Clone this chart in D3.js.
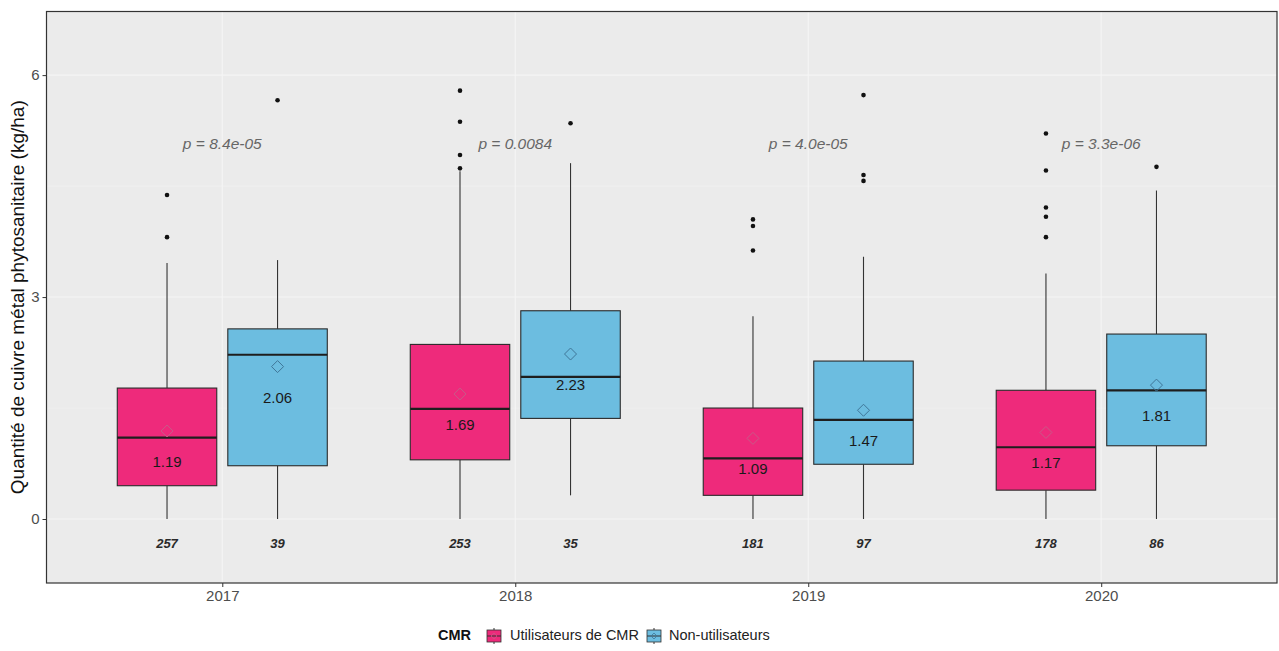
<!DOCTYPE html>
<html><head><meta charset="utf-8">
<script src="https://cdn.jsdelivr.net/npm/d3@7"></script>
<style>body{margin:0;background:#fff}svg{display:block;font-family:"Liberation Sans",Arial,sans-serif}</style>
</head><body><svg id="c" width="1279" height="651"></svg>
<script>
const years = ["2017","2018","2019","2020"];
const groups = ["Utilisateurs de CMR","Non-utilisateurs"];
const yTicks = [0,3,6];
const yMinor = [1.5,4.5];

const cmrLow = [0,0,0,0];
const cmrQ1 = [0.45,0.80,0.32,0.39];
const cmrMedian = [1.10,1.49,0.82,0.97];
const cmrQ3 = [1.77,2.36,1.50,1.74];
const cmrHigh = [3.46,4.70,2.74,3.32];
const cmrMean = [1.19,1.69,1.09,1.17];
const cmrN = [257,253,181,178];
const cmrOutliers = [[4.38,3.81],[5.79,5.37,4.92,4.74],[4.05,3.96,3.63],[5.21,4.71,4.21,4.085,3.81]];

const nonLow = [0,0.32,0,0];
const nonQ1 = [0.72,1.36,0.74,0.99];
const nonMedian = [2.22,1.92,1.34,1.74];
const nonQ3 = [2.57,2.815,2.135,2.50];
const nonHigh = [3.50,4.81,3.545,4.44];
const nonMean = [2.06,2.23,1.47,1.81];
const nonN = [39,35,97,86];
const nonOutliers = [[5.66],[5.35],[5.73,4.65,4.57],[4.76]];

const pLabels = ["p = 8.4e-05","p = 0.0084","p = 4.0e-05","p = 3.3e-06"];
const pLabelValue = 5.05;
const nLabelValue = -0.35;

const colors = ["#EE2A7B","#6CBDE0"];
const meanStroke = ["#c85a88","#3f7698"];

const svg = d3.select("#c");
const L=46.5,R=1277,T=11.5,B=583;
const x = d3.scalePoint().domain(years).range([L,R]).padding(0.6);
const xg = d3.scaleBand().domain(groups).range([-105,105]).paddingInner(0.1).paddingOuter(0);
const y = d3.scaleLinear().domain([-0.865,6.86]).range([B,T]);

svg.append("rect").attr("x",L).attr("y",T).attr("width",R-L).attr("height",B-T).attr("fill","#ebebeb");
const grid = svg.append("g");
yMinor.forEach(v=>grid.append("line").attr("x1",L).attr("x2",R).attr("y1",y(v)).attr("y2",y(v)).attr("stroke","#f3f3f3").attr("stroke-width",0.6));
yTicks.forEach(v=>grid.append("line").attr("x1",L).attr("x2",R).attr("y1",y(v)).attr("y2",y(v)).attr("stroke","#f5f5f5").attr("stroke-width",1.1));
years.forEach(v=>grid.append("line").attr("x1",x(v)).attr("x2",x(v)).attr("y1",T).attr("y2",B).attr("stroke","#f5f5f5").attr("stroke-width",1.1));

const series = [
 {low:cmrLow,q1:cmrQ1,med:cmrMedian,q3:cmrQ3,high:cmrHigh,mean:cmrMean,n:cmrN,out:cmrOutliers},
 {low:nonLow,q1:nonQ1,med:nonMedian,q3:nonQ3,high:nonHigh,mean:nonMean,n:nonN,out:nonOutliers}
];
const bw = xg.bandwidth();
const g = svg.append("g");
series.forEach((s,gi)=>{
  years.forEach((yr,i)=>{
    const x0 = x(yr)+xg(groups[gi]);
    const cx = x0+bw/2;
    g.append("line").attr("x1",cx).attr("x2",cx).attr("y1",y(s.high[i])).attr("y2",y(s.q3[i])).attr("stroke","#333").attr("stroke-width",1.1);
    g.append("line").attr("x1",cx).attr("x2",cx).attr("y1",y(s.q1[i])).attr("y2",y(s.low[i])).attr("stroke","#333").attr("stroke-width",1.1);
    g.append("rect").attr("x",x0).attr("y",y(s.q3[i])).attr("width",bw).attr("height",y(s.q1[i])-y(s.q3[i])).attr("fill",colors[gi]).attr("stroke","#2a2a2a").attr("stroke-width",1.1);
    g.append("line").attr("x1",x0).attr("x2",x0+bw).attr("y1",y(s.med[i])).attr("y2",y(s.med[i])).attr("stroke","#1e1e1e").attr("stroke-width",2.2);
    s.out[i].forEach(v=>g.append("circle").attr("cx",cx).attr("cy",y(v)).attr("r",2.3).attr("fill","#111"));
    const my = y(s.mean[i]);
    g.append("path").attr("d",`M${cx},${my-6}L${cx+6},${my}L${cx},${my+6}L${cx-6},${my}Z`).attr("fill","none").attr("stroke",meanStroke[gi]).attr("stroke-width",1);
    g.append("text").attr("x",cx).attr("y",my+32).attr("dominant-baseline","middle").attr("text-anchor","middle").attr("font-size",15).attr("fill","#1a1a1a").text(s.mean[i].toFixed(2));
    g.append("text").attr("x",cx).attr("y",y(nLabelValue)).attr("dominant-baseline","middle").attr("text-anchor","middle").attr("font-size",13).attr("font-style","italic").attr("font-weight","bold").attr("fill","#2a2a2a").text(s.n[i]);
  });
});
years.forEach((yr,i)=>{
  svg.append("text").attr("x",x(yr)).attr("y",y(pLabelValue)).attr("dominant-baseline","middle").attr("text-anchor","middle").attr("font-size",15.5).attr("font-style","italic").attr("fill","#666").text(pLabels[i]);
});

svg.append("rect").attr("x",L).attr("y",T).attr("width",R-L).attr("height",B-T).attr("fill","none").attr("stroke","#333").attr("stroke-width",1.2);

const xa = svg.append("g").attr("transform",`translate(0,${B})`).call(d3.axisBottom(x).tickSize(4).tickPadding(3));
xa.attr("font-size",null).attr("font-family",null);
xa.select(".domain").remove();
xa.selectAll("line").attr("stroke","#333");
xa.selectAll("text").style("font-size","15px").attr("fill","#4d4d4d");
const ya = svg.append("g").attr("transform",`translate(${L},0)`).call(d3.axisLeft(y).tickValues(yTicks).tickSize(4).tickPadding(3));
ya.attr("font-size",null).attr("font-family",null);
ya.select(".domain").remove();
ya.selectAll("line").attr("stroke","#333");
ya.selectAll("text").style("font-size","15px").attr("fill","#4d4d4d");

svg.append("text").attr("transform",`translate(24,${(T+B)/2}) rotate(-90)`).attr("text-anchor","middle").attr("font-size",19).attr("fill","#111").text("Quantité de cuivre métal phytosanitaire (kg/ha)");

const lg = svg.append("g").attr("transform","translate(0,636)");
lg.append("text").attr("x",438).attr("y",0).attr("dominant-baseline","middle").attr("font-size",14.5).attr("font-weight","bold").attr("fill","#111").text("CMR");
const keyX=[487,647], textX=[510,669];
groups.forEach((gname,gi)=>{
  const kx=keyX[gi];
  lg.append("line").attr("x1",kx+7).attr("x2",kx+7).attr("y1",-8).attr("y2",8).attr("stroke","#333");
  lg.append("rect").attr("x",kx).attr("y",-6).attr("width",14).attr("height",12).attr("fill",colors[gi]).attr("stroke","#333").attr("stroke-width",0.8);
  lg.append("line").attr("x1",kx).attr("x2",kx+14).attr("y1",0).attr("y2",0).attr("stroke","#333").attr("stroke-width",1);
  lg.append("path").attr("d",`M${kx+7},-3L${kx+10},0L${kx+7},3L${kx+4},0Z`).attr("fill","none").attr("stroke",meanStroke[gi]).attr("stroke-width",0.8);
  lg.append("text").attr("x",textX[gi]).attr("y",0).attr("dominant-baseline","middle").attr("font-size",14.5).attr("fill","#222").text(gname);
});
</script></body></html>
